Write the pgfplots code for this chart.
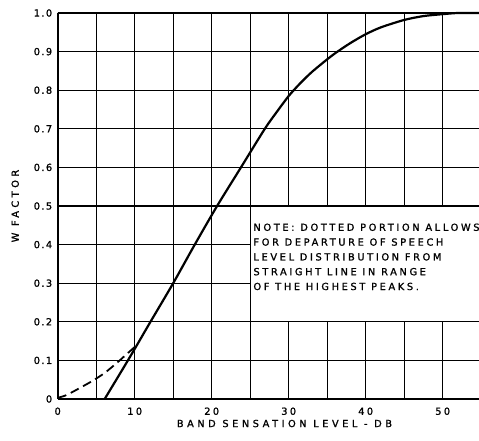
\documentclass[border=0pt]{standalone}
\usepackage{fontspec}
\setmainfont{DejaVu Sans}
\newfontfamily\lettering[LetterSpace=24, FakeBold=1.2]{DejaVu Sans}
\newfontfamily\notelettering[LetterSpace=27, FakeBold=1.2]{DejaVu Sans}
\newfontfamily\widelettering[LetterSpace=36, FakeBold=1.2]{DejaVu Sans}
\usepackage{pgfplots}
\pgfplotsset{compat=1.18}

\newcommand\lbl{\lettering\fontsize{9.8}{14.8}\selectfont}
\newcommand\nlbl{\notelettering\fontsize{9.8}{14.8}\selectfont}
\newcommand\wlbl{\widelettering\fontsize{9.8}{14.8}\selectfont}
\newcommand\dec[1]{0\kern1.4pt.\kern1.4pt#1}

\begin{document}
\begin{tikzpicture}[x=1pt,y=1pt]
\useasboundingbox (-57.7,-42) rectangle (421.3,399);
\begin{axis}[
  at={(0,0)}, anchor=south west,
  scale only axis, width=423.5pt, height=386pt,
  xmin=0, xmax=55, ymin=0, ymax=1,
  axis x line*=bottom, axis y line*=left,
  axis line style={-, line width=1.7pt},
  xtick={0,10,...,50}, minor xtick={5,15,...,55},
  ytick={0,0.1,...,1.0},
  yticklabels={0,\dec1,\dec2,\dec3,\dec4,\dec5,\dec6,\dec7,\dec8,\dec9,1\kern1.4pt.\kern1.4pt0},
  xticklabels={0,10,20,30,40,50},
  extra y ticks={1}, extra y tick labels={},
  extra y tick style={grid style={black, line width=1.7pt}},
  major tick length=0pt, minor tick length=0pt,
  grid=both,
  major grid style={black, line width=1.35pt},
  minor grid style={black, line width=1.35pt},
  ticklabel style={font=\lbl},
  yticklabel style={xshift=-2pt},
  xticklabel style={yshift=-5pt},
  xlabel={BAND SENSATION LEVEL - DB},
  ylabel={W FACTOR},
  label style={font=\wlbl},
  xlabel style={xshift=15pt, yshift=2pt},
  ylabel style={yshift=8pt},
  clip=false,
]
% blank panel for the note
\fill[white] (axis cs:25.13,0.2025) rectangle (axis cs:56,0.4975);

% dashed portion near threshold
\addplot[black, line width=1.8pt, dash pattern=on 9pt off 5pt, smooth] coordinates {
  (0,0.003) (1,0.009) (2,0.019) (3,0.03) (4,0.041) (5,0.053)
  (6,0.066) (7,0.082) (8,0.099) (9,0.117) (10.3,0.14)
};

% W factor curve
\addplot[black, line width=2.2pt, smooth, tension=0.45] coordinates {
  (6.1,0) (8.7,0.086) (10.3,0.14) (11.9,0.195) (15,0.3) (17.8,0.4) (20.7,0.5)
  (23.8,0.6) (26.9,0.7) (28.5,0.745) (30,0.785) (31.5,0.818)
  (33,0.847) (35,0.88) (36.2,0.898) (38,0.922) (40,0.945)
  (42,0.963) (45,0.982) (47.5,0.992) (50,0.997) (52,1.0) (55,1.0)
};

\node[anchor=north west, inner sep=0pt, align=left, font=\nlbl]
  at (axis cs:25.4,0.455)
  {NOTE: DOTTED PORTION ALLOWS\\FOR DEPARTURE OF SPEECH\\LEVEL DISTRIBUTION FROM\\STRAIGHT LINE IN RANGE\\OF THE HIGHEST PEAKS.};
\end{axis}
\end{tikzpicture}
\end{document}
